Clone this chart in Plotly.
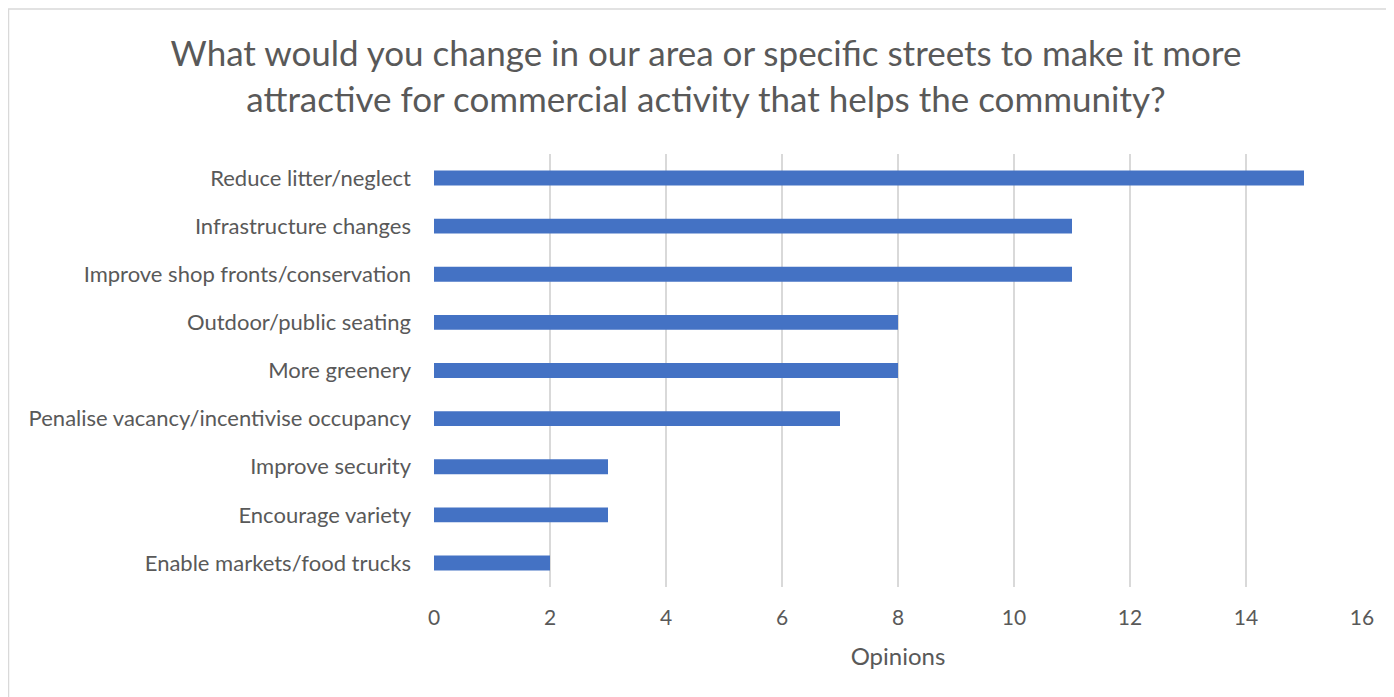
import plotly.graph_objects as go

categories = [
    "Reduce litter/neglect",
    "Infrastructure changes",
    "Improve shop fronts/conservation",
    "Outdoor/public seating",
    "More greenery",
    "Penalise vacancy/incentivise occupancy",
    "Improve security",
    "Encourage variety",
    "Enable markets/food trucks",
]
opinions = [15, 11, 11, 8, 8, 7, 3, 3, 2]
x_ticks = [0, 2, 4, 6, 8, 10, 12, 14, 16]

title_text = ("What would you change in our area or specific streets to make it more<br>"
              "attractive for commercial activity that helps the community?")

FONT = "Lato"
GREY = "#595959"

# page has an 8px body margin; figure fits inside the window
W, H = 1386, 689
L, T = 426, 146
pw, ph = 928, 433
R, B = W - L - pw, H - T - ph

fig = go.Figure(go.Bar(
    x=opinions, y=categories, orientation="h",
    marker=dict(color="#4472C4", line=dict(width=0)),
    width=0.31,
))

def px2paper_x(p):
    return (p - L) / pw

def px2paper_y(p):
    return 1 - (p - T) / ph

fig.update_layout(
    width=W, height=H,
    margin=dict(l=L, r=R, t=T, b=B, autoexpand=False),
    paper_bgcolor="white", plot_bgcolor="white",
    showlegend=False,
    font=dict(family=FONT, color=GREY),
    title=dict(text=title_text, x=698 / W, xref="container", xanchor="center",
               y=1 - 58 / H, yref="container", yanchor="middle",
               font=dict(family=FONT, size=35, color=GREY)),
    shapes=[dict(type="rect", xref="paper", yref="paper",
                 x0=px2paper_x(0.5), x1=px2paper_x(1410),
                 y0=px2paper_y(710), y1=px2paper_y(1),
                 line=dict(color="#D9D9D9", width=1.5), fillcolor="rgba(0,0,0,0)",
                 layer="below")],
)

fig.update_xaxes(
    range=[0, 16], tickvals=x_ticks, showgrid=True, gridcolor="#D9D9D9", gridwidth=2,
    zeroline=False, showline=False, ticks="", ticklabelstandoff=16,
    tickfont=dict(family=FONT, size=21, color=GREY),
    title=dict(text="Opinions", font=dict(family=FONT, size=24, color=GREY), standoff=20),
    fixedrange=True,
)
fig.update_yaxes(
    categoryorder="array", categoryarray=categories, autorange="reversed",
    showgrid=False, zeroline=False, showline=False, ticks="",
    ticklabelstandoff=22,
    tickfont=dict(family=FONT, size=22, color=GREY),
    fixedrange=True,
)

fig.write_html("out.html")
